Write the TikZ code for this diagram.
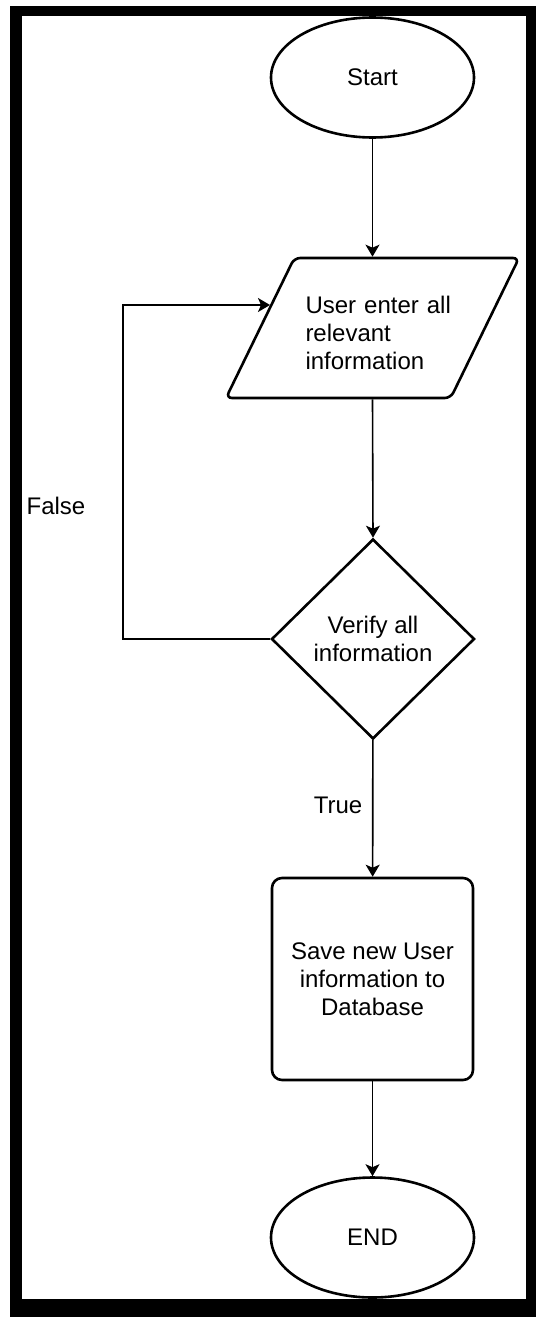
\documentclass[tikz,border=0pt]{standalone}
\usepackage{fontspec}
\setmainfont{Liberation Sans}
\usetikzlibrary{arrows.meta}
\usetikzlibrary{shapes.geometric}

\begin{document}
\begin{tikzpicture}[x=0.5pt, y=-0.5pt,
	line/.style={>={Stealth[length=6pt, width=7pt, inset=1.5pt]}, line width=0.8pt},
	box/.style={draw=black, line width=1.3pt, fill=white, inner sep=0pt,
		font=\fontsize{12}{14}\selectfont, align=center},
	terminal/.style={box, ellipse, minimum width=101.5pt, minimum height=60pt},
	io/.style={box, trapezium, trapezium left angle=64, trapezium right angle=116,
		trapezium stretches body, minimum width=146.5pt, inner ysep=35pt,
		rounded corners=3pt},
	decision/.style={box, diamond, aspect=1, minimum width=101.5pt, minimum height=100pt},
	process/.style={box, rectangle, rounded corners=5pt, minimum width=100.5pt, minimum height=101pt},
	tag/.style={font=\fontsize{12}{14}\selectfont, inner sep=0pt}]

	\useasboundingbox (0,0) rectangle (536,1317);

	% frame
	\fill[black] (10,6) rectangle (536,1317);
	\fill[white] (22,16) rectangle (526,1299);

	\node[terminal] (start) at (372.5,77.5) {Start};
	\node[io, label={[tag, align=left, text width=74pt, xshift=3.5pt, yshift=-2.5pt]center:{User enter all\\relevant\\information}}] (enter) at (372.5,328) {};
	\node[decision] (verify) at (373,639) {Verify all\\information};
	\node[process] (save) at (372.5,979) {Save new User\\information to\\Database};
	\node[terminal] (finish) at (372.5,1237.5) {END};

	\node[tag] (lblfalse) at (56,506) {False};
	\node[tag] (lbltrue) at (338,805) {True};

	\coordinate (loopturn) at (123,639);
	\coordinate (loopend) at (270,305);

	\draw[->, line] (start) -- (enter);
	\draw[->, line] (enter.south) -- (verify.north);
	\draw[->, line] (verify) -- (save);
	\draw[->, line] (save) -- (finish);
	\draw[->, line] (verify.west) -- (loopturn) |- (loopend);

\end{tikzpicture}
\end{document}
